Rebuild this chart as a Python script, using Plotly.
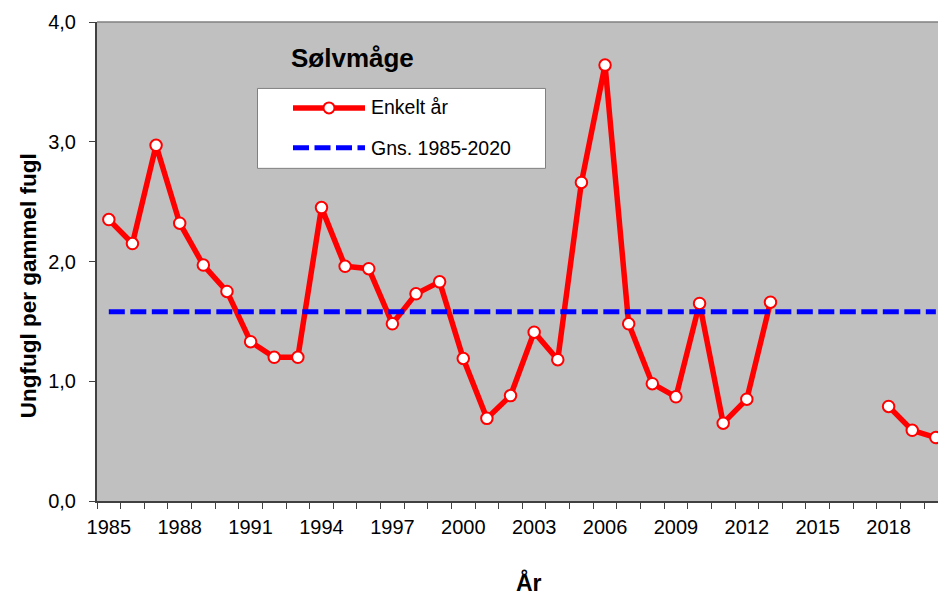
import plotly.graph_objects as go

# ---- data ----
years = list(range(1985, 2021))
young_per_adult = [
    2.35, 2.15, 2.97, 2.32, 1.97, 1.75, 1.33, 1.20, 1.20, 2.45,
    1.96, 1.94, 1.48, 1.73, 1.83, 1.19, 0.69, 0.88, 1.41, 1.18,
    2.66, 3.64, 1.48, 0.98, 0.87, 1.65, 0.65, 0.85, 1.66, None,
    None, None, None, 0.79, 0.59, 0.53,
]
mean_1985_2020 = 1.58
label_years = [1985, 1988, 1991, 1994, 1997, 2000, 2003, 2006, 2009, 2012, 2015, 2018]
y_ticks = [0, 1, 2, 3, 4]

W, H = 938, 598
L, R, T, B = 97, 938, 21.5, 501  # plot area in px

def px_x(x):
    return (x - L) / (R - L)

def px_y(y):
    return (B - y) / (B - T)

FONT = "Liberation Sans, Arial, sans-serif"

fig = go.Figure()
fig.add_trace(go.Scatter(
    x=years, y=young_per_adult, mode="lines+markers", name="Enkelt år",
    line=dict(color="#FF0000", width=5.5), connectgaps=False,
    marker=dict(size=11.5, color="white", line=dict(color="#FF0000", width=2)),
    showlegend=False, cliponaxis=False,
))
fig.add_trace(go.Scatter(
    x=[years[0], years[-1]], y=[mean_1985_2020, mean_1985_2020], mode="lines",
    name="Gns. 1985-2020", line=dict(color="#0000FF", width=5, dash="16px,5.5px"),
    showlegend=False,
))

fig.update_layout(
    width=W, height=H,
    margin=dict(l=L, r=W - R, t=T, b=H - B),
    paper_bgcolor="white", plot_bgcolor="#C0C0C0",
    separators=", ",
    font=dict(family=FONT, size=20, color="black"),
    xaxis=dict(
        range=[1984.5, 1984.5 + (R - L) / 23.63],
        tickmode="array", tickvals=label_years, ticktext=[str(y) for y in label_years],
        ticks="outside", ticklen=6, tickcolor="rgba(0,0,0,0)", ticklabelstandoff=1,
        minor=dict(tickmode="linear", tick0=1984.5, dtick=1, ticks="outside",
                   ticklen=6, tickcolor="#404040", tickwidth=1),
        showgrid=False, zeroline=False, showline=True, linecolor="#404040", linewidth=2,
        tickfont=dict(size=20, family=FONT), fixedrange=True,
    ),
    yaxis=dict(
        range=[0, 4], tickmode="array", tickvals=y_ticks, tickformat=".1f",
        ticks="outside", ticklen=6, tickcolor="#404040", tickwidth=1,
        ticklabelstandoff=9,
        showgrid=False, zeroline=False, showline=True, linecolor="#404040", linewidth=2,
        tickfont=dict(size=20, family=FONT),
    ),
    shapes=[
        # top border of plot area
        dict(type="line", xref="paper", yref="paper", x0=0, x1=1, y0=1, y1=1,
             line=dict(color="#808080", width=1.5)),
        # legend box
        dict(type="rect", xref="paper", yref="paper",
             x0=px_x(257.5), x1=px_x(545.5), y0=px_y(168), y1=px_y(88),
             fillcolor="white", line=dict(color="#808080", width=1)),
        dict(type="line", xref="paper", yref="paper",
             x0=px_x(293), x1=px_x(365), y0=px_y(107.5), y1=px_y(107.5),
             line=dict(color="#FF0000", width=5.5)),
        dict(type="circle", xref="paper", yref="paper",
             x0=px_x(323.5), x1=px_x(334.5), y0=px_y(113), y1=px_y(102),
             fillcolor="white", line=dict(color="#FF0000", width=2)),
        dict(type="line", xref="paper", yref="paper",
             x0=px_x(293), x1=px_x(365), y0=px_y(147.5), y1=px_y(147.5),
             line=dict(color="#0000FF", width=5, dash="16px,5.5px")),
    ],
    annotations=[
        dict(text="<b>Sølvmåge</b>", xref="paper", yref="paper",
             x=px_x(289), y=px_y(57.5), xanchor="left", yanchor="middle",
             showarrow=False, font=dict(size=26, family=FONT)),
        dict(text="Enkelt år", xref="paper", yref="paper",
             x=px_x(369), y=px_y(107), xanchor="left", yanchor="middle",
             showarrow=False, font=dict(size=19.5, family=FONT)),
        dict(text="Gns. 1985-2020", xref="paper", yref="paper",
             x=px_x(369), y=px_y(148), xanchor="left", yanchor="middle",
             showarrow=False, font=dict(size=19.5, family=FONT)),
        dict(text="<b>Ungfugl per gammel fugl</b>", xref="paper", yref="paper",
             x=px_x(28), y=px_y(286), xanchor="center", yanchor="middle",
             textangle=-90, showarrow=False, font=dict(size=22.5, family=FONT)),
        dict(text="<b>År</b>", xref="paper", yref="paper",
             x=px_x(529), y=px_y(583), xanchor="center", yanchor="middle",
             showarrow=False, font=dict(size=23, family=FONT)),
    ],
)

fig.write_html("out.html", config={"displayModeBar": False},
               post_script="document.body.style.margin='0px';")
